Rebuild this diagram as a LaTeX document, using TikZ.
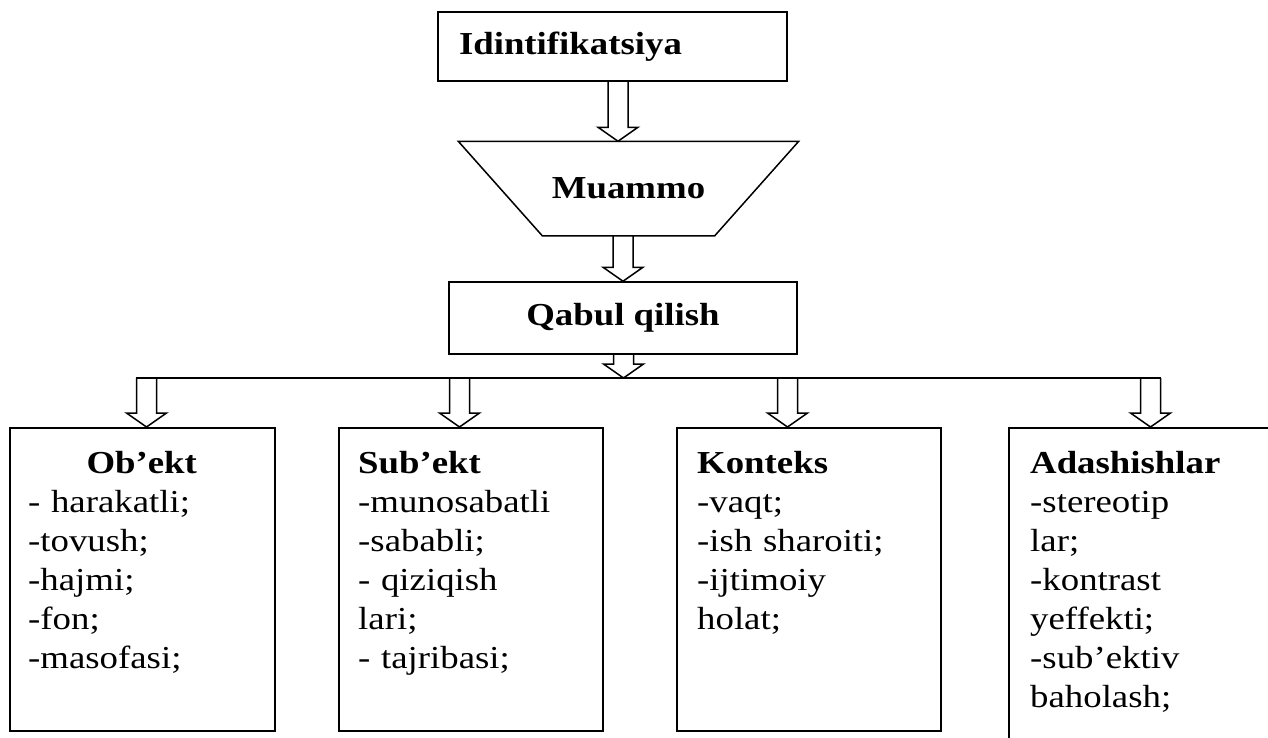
\documentclass[tikz,border=0pt]{standalone}
\usepackage{fontspec}
\setmainfont{Liberation Serif}[FakeStretch=1.15]
\usetikzlibrary{calc}

\newcommand{\diagfont}{\fontsize{32}{39}\selectfont}

\tikzset{
	box/.style={draw, line width=1.5pt, inner sep=0pt},
	headbox/.style={box, font=\diagfont\bfseries},
	itemlist/.style={anchor=north west, inner sep=0pt, text width=240pt, align=left},
	arrowline/.style={line width=1.5pt, line join=miter},
}

% hollow block arrow: from #1 straight down to the height of #2
\newcommand{\blockarrow}[2]{%
	\draw[arrowline] let \p1=#1, \p2=#2 in
	(\x1-10pt,\y1) -- (\x1-10pt,\y2+14pt) -- (\x1-20pt,\y2+14pt) -- (\x1,\y2)
	-- (\x1+20pt,\y2+14pt) -- (\x1+10pt,\y2+14pt) -- (\x1+10pt,\y1);}

\begin{document}
\begin{tikzpicture}[x=1pt,y=-1pt,font=\diagfont]
		\useasboundingbox (0,0) rectangle (1268,737);
		% top chain
		\node[headbox, text width=307pt, align=left, inner xsep=21pt, minimum height=69pt] (idin) at (612.5,46.5) {Idintifikatsiya};
		\node[headbox, draw=none, minimum width=171pt, minimum height=93pt] (muammo) at (628.5,188.5) {Muammo};
		\draw[arrowline] (muammo.south west) -- (muammo.south east) -- ($(muammo.north east)+(84,0)$)
			-- ($(muammo.north west)+(-84,0)$) -- cycle;
		\node[headbox, minimum width=348pt, minimum height=72pt] (qabul) at (623,318) {Qabul qilish};
		\blockarrow{([xshift=5.5pt]idin.south)}{(muammo.north)}
		\blockarrow{(muammo.south -| qabul.north)}{(qabul.north)}
		% branching line
		\coordinate (fork) at (623.5,378);
		\coordinate (fl) at (136,378);
		\coordinate (fr) at (1161,378);
		\draw[arrowline] (fl) -- (fr);
		\blockarrow{(qabul.south -| fork)}{(fork)}
		% boxes
		\node[box, anchor=north west, minimum width=265pt, minimum height=303pt] (obekt) at (9,427) {};
		\node[box, anchor=north west, minimum width=264pt, minimum height=303pt] (subekt) at (338,427) {};
		\node[box, anchor=north west, minimum width=264pt, minimum height=303pt] (konteks) at (676,427) {};
		\node[box, anchor=north west, minimum width=300pt, minimum height=340pt] (adash) at (1008,427) {};
		\coordinate (b1) at (146.5,378);
		\coordinate (b2) at (459.5,378);
		\coordinate (b3) at (787.5,378);
		\coordinate (b4) at (1150.5,378);
		\foreach \bx/\nm in {b1/obekt,b2/subekt,b3/konteks,b4/adash}
		{
			\blockarrow{(\bx)}{(\nm.north)}
		}
		% box texts
		\node[itemlist, text width=227pt] (obekt-txt) at ($(obekt.north west)+(19,24)$)
			{\hfill\textbf{Ob’ekt}\hfill\null\\- harakatli;\\-tovush;\\-hajmi;\\-fon;\\-masofasi;};
		\node[itemlist] (subekt-txt) at ($(subekt.north west)+(20,24)$)
			{\textbf{Sub’ekt}\\-munosabatli\\-sababli;\\- qiziqish\\lari;\\- tajribasi;};
		\node[itemlist] (konteks-txt) at ($(konteks.north west)+(21,24)$)
			{\textbf{Konteks}\\-vaqt;\\-ish sharoiti;\\-ijtimoiy\\holat;};
		\node[itemlist] (adash-txt) at ($(adash.north west)+(22,24)$)
			{\textbf{Adashishlar}\\-stereotip\\lar;\\-kontrast\\yeffekti;\\-sub’ektiv\\baholash;};
\end{tikzpicture}
\end{document}
